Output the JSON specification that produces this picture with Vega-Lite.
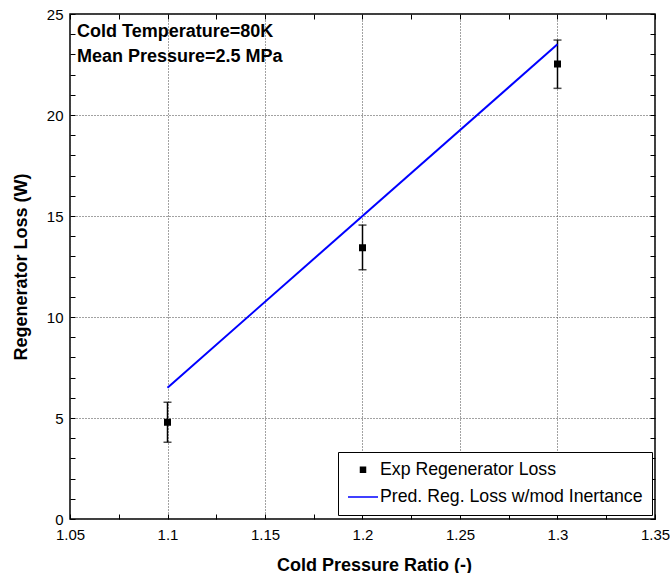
{
  "$schema": "https://vega.github.io/schema/vega-lite/v6.json",
  "width": 585,
  "height": 505,
  "autosize": {"type": "none"},
  "padding": {"left": 70, "top": 14, "right": 15, "bottom": 54},
  "background": "white",
  "config": {
    "view": {"stroke": "black", "strokeWidth": 1.5},
    "font": "Liberation Sans",
    "axis": {
      "labelFont": "Liberation Sans",
      "labelFontSize": 15,
      "labelColor": "black",
      "titleFont": "Liberation Sans",
      "titleFontSize": 18,
      "titleFontWeight": "bold",
      "titleColor": "black",
      "tickColor": "black",
      "tickWidth": 1,
      "domain": false,
      "labelFlush": false,
      "labelOverlap": false,
      "labelBound": false
    }
  },
  "datasets": {
    "exp": [
      {"x": 1.1, "y": 4.79, "lo": 3.8, "hi": 5.78, "series": "Exp Regenerator Loss"},
      {"x": 1.2, "y": 13.43, "lo": 12.34, "hi": 14.55, "series": "Exp Regenerator Loss"},
      {"x": 1.3, "y": 22.52, "lo": 21.32, "hi": 23.71, "series": "Exp Regenerator Loss"}
    ],
    "pred": [
      {"x": 1.1, "y": 6.5, "series": "Pred. Reg. Loss w/mod Inertance"},
      {"x": 1.2, "y": 15.0, "series": "Pred. Reg. Loss w/mod Inertance"},
      {"x": 1.3, "y": 23.5, "series": "Pred. Reg. Loss w/mod Inertance"}
    ],
    "notes": [
      {"x": 1.0536, "y": 23.88, "t": "Cold Temperature=80K"},
      {"x": 1.0536, "y": 22.64, "t": "Mean Pressure=2.5 MPa"}
    ]
  },
  "resolve": {"axis": {"x": "independent", "y": "independent"}},
  "layer": [
    {
      "data": {"name": "exp"},
      "mark": {"type": "rule", "color": "black", "strokeWidth": 1.5},
      "encoding": {
        "x": {
          "field": "x", "type": "quantitative",
          "scale": {"domain": [1.05, 1.35], "nice": false, "zero": false},
          "axis": {
            "orient": "bottom",
            "title": "Cold Pressure Ratio (-)",
            "values": [1.05, 1.075, 1.1, 1.125, 1.15, 1.175, 1.2, 1.225, 1.25, 1.275, 1.3, 1.325, 1.35],
            "labelExpr": "round(datum.value*1000) % 50 == 0 ? format(datum.value, '~g') : ''",
            "tickSize": -5,
            "labelPadding": 13,
            "grid": true,
            "gridColor": "#444444",
            "gridDash": [1, 2],
            "gridOpacity": {"condition": {"test": "round(datum.value*1000) % 50 == 0", "value": 1}, "value": 0},
            "titleX": 304,
            "titleY": 51,
            "titleBaseline": "alphabetic"
          }
        },
        "y": {
          "field": "lo", "type": "quantitative",
          "scale": {"domain": [0, 25], "nice": false},
          "axis": {
            "orient": "left",
            "title": "Regenerator Loss (W)",
            "values": [0,1,2,3,4,5,6,7,8,9,10,11,12,13,14,15,16,17,18,19,20,21,22,23,24,25],
            "labelExpr": "datum.value % 5 == 0 ? datum.label : ''",
            "tickSize": -5,
            "labelPadding": 12,
            "grid": true,
            "gridColor": "#444444",
            "gridDash": [1, 2],
            "gridOpacity": {"condition": {"test": "datum.value % 5 == 0", "value": 1}, "value": 0},
            "titleX": -44,
            "titleBaseline": "alphabetic"
          }
        },
        "y2": {"field": "hi"}
      }
    },
    {
      "data": {"name": "exp"},
      "mark": {"type": "tick", "orient": "horizontal", "color": "black", "size": 8, "thickness": 1.5},
      "encoding": {
        "x": {"field": "x", "type": "quantitative",
          "axis": {
            "orient": "top", "title": null, "labels": false, "grid": false, "tickSize": -5,
            "values": [1.05, 1.075, 1.1, 1.125, 1.15, 1.175, 1.2, 1.225, 1.25, 1.275, 1.3, 1.325, 1.35]
          }
        },
        "y": {"field": "hi", "type": "quantitative",
          "axis": {
            "orient": "right", "title": null, "labels": false, "grid": false, "tickSize": -5,
            "values": [0,1,2,3,4,5,6,7,8,9,10,11,12,13,14,15,16,17,18,19,20,21,22,23,24,25]
          }
        }
      }
    },
    {
      "data": {"name": "exp"},
      "mark": {"type": "tick", "orient": "horizontal", "color": "black", "size": 8, "thickness": 1.5},
      "encoding": {
        "x": {"field": "x", "type": "quantitative", "axis": null},
        "y": {"field": "lo", "type": "quantitative", "axis": null}
      }
    },
    {
      "data": {"name": "exp"},
      "mark": {"type": "point", "filled": true, "opacity": 1, "strokeWidth": 2},
      "encoding": {
        "x": {"field": "x", "type": "quantitative", "axis": null},
        "y": {"field": "y", "type": "quantitative", "axis": null},
        "color": {
          "field": "series", "type": "nominal",
          "scale": {"domain": ["Exp Regenerator Loss", "Pred. Reg. Loss w/mod Inertance"], "range": ["black", "#0000ff"]},
          "legend": {
            "title": null,
            "orient": "none",
            "legendX": 268,
            "legendY": 438,
            "fillColor": "white",
            "strokeColor": "black",
            "padding": 9,
            "labelFont": "Liberation Sans",
            "labelFontSize": 17.7,
            "labelColor": "black",
            "labelOffset": 1,
            "labelLimit": 400,
            "symbolOffset": 0,
            "rowPadding": 2
          }
        },
        "stroke": {
          "field": "series", "type": "nominal",
          "scale": {"domain": ["Exp Regenerator Loss", "Pred. Reg. Loss w/mod Inertance"], "range": ["black", "#0000ff"]}
        },
        "shape": {
          "field": "series", "type": "nominal",
          "scale": {"domain": ["Exp Regenerator Loss", "Pred. Reg. Loss w/mod Inertance"], "range": ["square", "stroke"]}
        },
        "size": {
          "field": "series", "type": "nominal",
          "scale": {"domain": ["Exp Regenerator Loss", "Pred. Reg. Loss w/mod Inertance"], "range": [25, 900]}
        }
      }
    },
    {
      "data": {"name": "pred"},
      "mark": {"type": "line", "strokeWidth": 2},
      "encoding": {
        "x": {"field": "x", "type": "quantitative", "axis": null},
        "y": {"field": "y", "type": "quantitative", "axis": null},
        "color": {"field": "series", "type": "nominal", "legend": null}
      }
    },
    {
      "data": {"name": "notes"},
      "mark": {"type": "text", "align": "left", "baseline": "alphabetic", "font": "Liberation Sans", "fontSize": 18, "fontWeight": "bold", "color": "black"},
      "encoding": {
        "x": {"field": "x", "type": "quantitative", "axis": null},
        "y": {"field": "y", "type": "quantitative", "axis": null},
        "text": {"field": "t"}
      }
    }
  ]
}
